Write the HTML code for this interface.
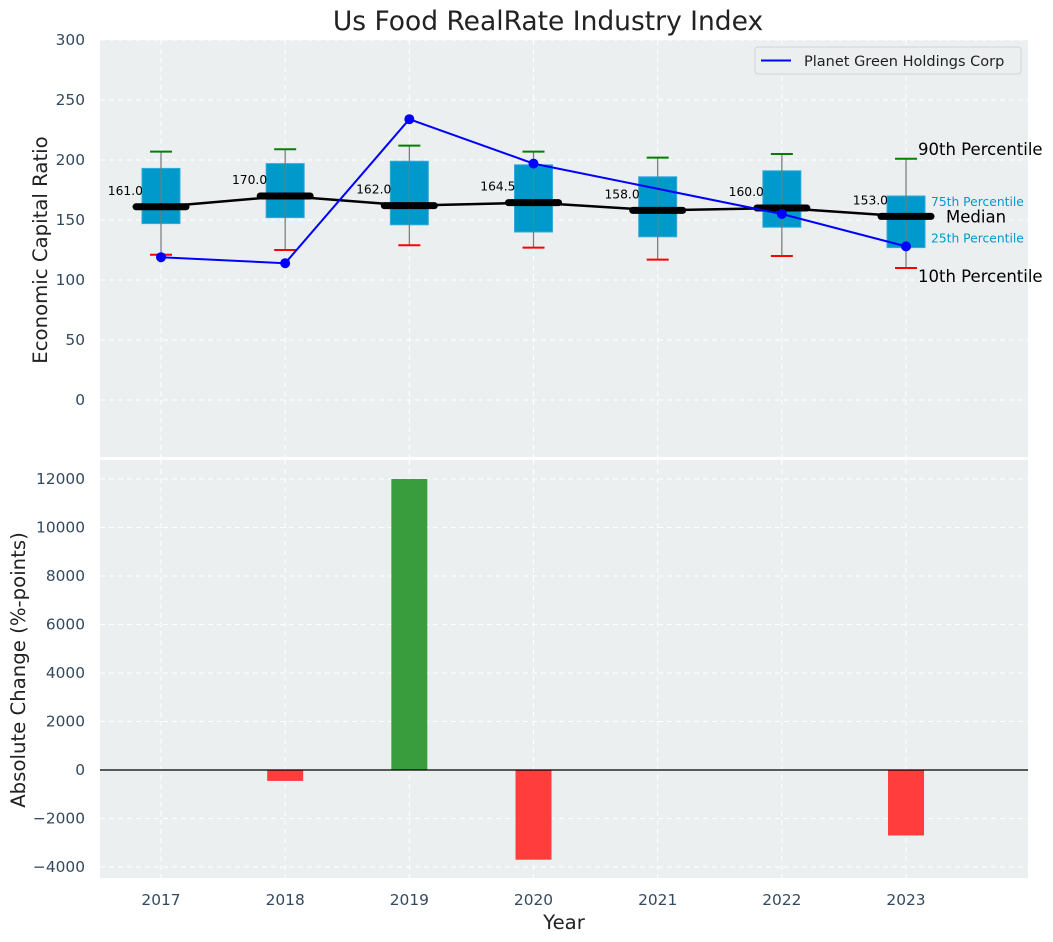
<!DOCTYPE html>
<html><head><meta charset="utf-8">
<style>
html,body{margin:0;padding:0;background:#fff;}
svg{display:block;font-family:"DejaVu Sans","Liberation Sans",sans-serif;}
</style></head>
<body>
<svg id="chart" width="1053" height="942" viewBox="0 0 1053 942" xmlns="http://www.w3.org/2000/svg">
<text x="548" y="30" font-size="26.5" text-anchor="middle" fill="#222">Us Food RealRate Industry Index</text>
<rect x="100" y="40" width="928" height="417" fill="#ebeff0"/>
<rect x="100" y="460" width="928" height="418" fill="#ebeff0"/>
<g id="topg"></g>
<g id="botg"></g>
<text transform="translate(47,250) rotate(-90)" font-size="19.7" text-anchor="middle" fill="#222">Economic Capital Ratio</text>
<text transform="translate(25,670) rotate(-90)" font-size="19.7" text-anchor="middle" fill="#222">Absolute Change (%-points)</text>
<text x="564" y="929" font-size="19.7" text-anchor="middle" fill="#222">Year</text>
</svg>
<script>
const years=[2017,2018,2019,2020,2021,2022,2023];
const p10=[121,125,129,127,117,120,110];
const p25=[147,152,146,140,136,144,127];
const median=[161,170,162,164.5,158,160,153];
const p75=[193,197,199,196,186,191,170];
const p90=[207,209,212,207,202,205,201];
const company=[119,114,234,197,null,155,128];
const changes=[0,-450,12000,-3700,0,0,-2700];
const topTicks=[0,50,100,150,200,250,300];
const botTicks=[-4000,-2000,0,2000,4000,6000,8000,10000,12000];

const NS="http://www.w3.org/2000/svg";
const X=y=>161+(y-2017)*124.17;
const YT=v=>400-v*1.2;
const YB=v=>770-v*0.02425;
function mk(parent,tag,attrs,txt){const e=document.createElementNS(NS,tag);for(const k in attrs)e.setAttribute(k,attrs[k]);if(txt!==undefined)e.textContent=txt;parent.appendChild(e);return e;}
const tg=document.getElementById('topg'),bg=document.getElementById('botg');
const tc="#34495e";
topTicks.forEach(t=>{
  let g=mk(tg,'line',{x1:100,x2:1028,y1:YT(t),y2:YT(t),stroke:'#fff','stroke-dasharray':'5,4','stroke-width':1});
  
  
  let l=mk(tg,'text',{x:85,y:YT(t)+5,'font-size':15.4,'text-anchor':'end',fill:tc},t);
  
  
});
botTicks.forEach(t=>{
  let g=mk(bg,'line',{x1:100,x2:1028,y1:YB(t),y2:YB(t),stroke:'#fff','stroke-dasharray':'5,4','stroke-width':1});
  
  
  let l=mk(bg,'text',{x:85,y:YB(t)+5,'font-size':15.4,'text-anchor':'end',fill:tc},(t<0?'\u2212'+(-t):t));
  
  
});
years.forEach(y=>{
  let g=mk(tg,'line',{x1:X(y),x2:X(y),y1:40,y2:457,stroke:'#fff','stroke-dasharray':'5,4'});
  
  
  let g2=mk(bg,'line',{x1:X(y),x2:X(y),y1:460,y2:878,stroke:'#fff','stroke-dasharray':'5,4'});
  
  
  let l=mk(bg,'text',{x:X(y),y:905,'font-size':15.4,'text-anchor':'middle',fill:tc},y);
  
  
});
years.forEach((y,i)=>{
  const cx=X(y);
  let b=mk(tg,'rect',{x:cx-19,y:YT(p75[i]),width:38,height:YT(p25[i])-YT(p75[i]),fill:'#0099cc',stroke:'#33aadd','stroke-width':1});
  
  
  let w=mk(tg,'line',{x1:cx,x2:cx,y1:YT(p90[i]),y2:YT(p10[i]),stroke:'#777','stroke-width':1.2});
  
  
  let c1=mk(tg,'line',{x1:cx-11,x2:cx+11,y1:YT(p90[i]),y2:YT(p90[i]),stroke:'green','stroke-width':2});
  
  
  let c2=mk(tg,'line',{x1:cx-11,x2:cx+11,y1:YT(p10[i]),y2:YT(p10[i]),stroke:'red','stroke-width':2});
  
  
});
let mp=mk(tg,'polyline',{points:years.map((y,i)=>X(y)+','+YT(median[i])).join(' '),fill:'none',stroke:'#000','stroke-width':2.5});


years.forEach((y,i)=>{
  const cx=X(y);
  let m=mk(tg,'line',{x1:cx-25,x2:cx+25,y1:YT(median[i]),y2:YT(median[i]),stroke:'#000','stroke-width':7,'stroke-linecap':'round'});
  
  
  let t=mk(tg,'text',{x:cx-18,y:YT(median[i])-12,'font-size':12.3,'text-anchor':'end',fill:'#000'},median[i].toFixed(1));
  
  
});
const pts=[];years.forEach((y,i)=>{if(company[i]!==null)pts.push([X(y),YT(company[i])]);});
let cl=mk(tg,'polyline',{points:pts.map(p=>p.join(',')).join(' '),fill:'none',stroke:'#0000ff','stroke-width':2});


pts.forEach(p=>{let c=mk(tg,'circle',{cx:p[0],cy:p[1],r:5,fill:'#0000ff'});
  
  });
const li=years.length-1,ax=X(years[li]);
[['90th Percentile',p90[li],16.5,'#000',ax+12,-4],['75th Percentile',p75[li],12.3,'#0099cc',ax+25,10],['Median',median[li],16.5,'#000',ax+40,6],['25th Percentile',p25[li],12.3,'#0099cc',ax+25,-5],['10th Percentile',p10[li],16.5,'#000',ax+12,14]].forEach(a=>{
  let t=mk(tg,'text',{x:a[4],y:YT(a[1])+a[5],'font-size':a[2],fill:a[3]},a[0]);
  
  
});
let lg=mk(tg,'rect',{x:755,y:47,width:266,height:27,rx:3,fill:'#ebeff0',stroke:'#d0d4d6'});


let ll=mk(tg,'line',{x1:761,x2:791,y1:60.5,y2:60.5,stroke:'#0000ff','stroke-width':2});


let lt=mk(tg,'text',{x:804,y:66,'font-size':14.5,fill:'#222'},'Planet Green Holdings Corp');


years.forEach((y,i)=>{
  const v=changes[i];if(v===0)return;
  const y0=YB(Math.max(v,0)),h=Math.abs(YB(v)-YB(0));
  let r=mk(bg,'rect',{x:X(y)-18,y:y0,width:36,height:h,fill:v>0?'#3a9d3d':'#ff3d3d'});
  
  
});
let zl=mk(bg,'line',{x1:100,x2:1028,y1:YB(0),y2:YB(0),stroke:'#000','stroke-width':1.2});


</script>
</body></html>
